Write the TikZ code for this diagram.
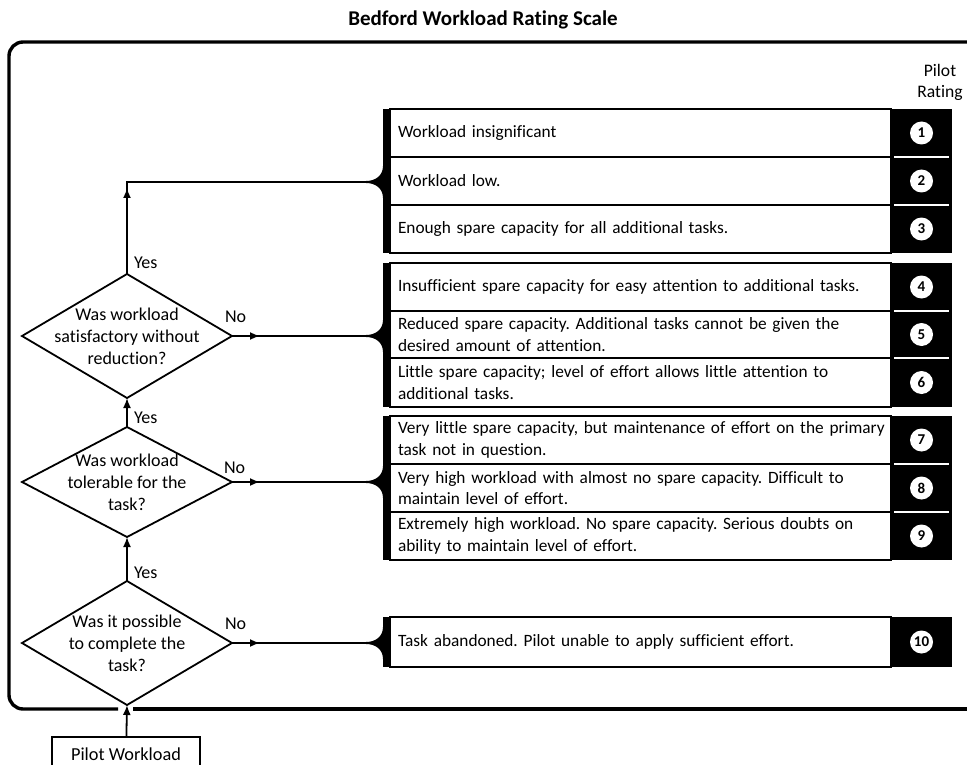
\documentclass[tikz,border=0pt]{standalone}
\usepackage{fontspec}
\setmainfont{Carlito}[Ligatures=NoCommon]
\frenchspacing
\usetikzlibrary{arrows.meta,shapes.geometric,decorations.markings}

\tikzset{
  every node/.style={inner sep=0pt, outer sep=0pt},
  body/.style={font=\fontsize{17.3}{21.5}\selectfont},
  line/.style={line width=1.8pt},
  tip/.style={-{Latex[length=10pt,width=8pt]}},
  midtip/.style={postaction={decorate,decoration={markings,
      mark=at position #1 with {\arrow{Latex[length=10pt,width=8pt]}}}}},
  frame/.style={line width=3.4pt},
  dia/.style={draw, line width=1.8pt, diamond, minimum width=210pt,
      minimum height=124pt, inner sep=0pt},
  dtext/.style={font=\fontsize{18}{22}\selectfont, align=center},
  lab/.style={font=\fontsize{18}{20}\selectfont, anchor=west},
  row/.style={body, draw, line width=1.6pt, anchor=north west,
      minimum width=501pt, inner xsep=8pt, text width=485pt, align=left},
  num/.style={circle, fill=white, minimum size=23pt,
      font=\bfseries\fontsize{15}{16}\selectfont},
  sep/.style={white, line width=1.6pt},
  bar/.style={line width=7pt},
  brace/.pic={
    \fill (-17,-1) .. controls (-8,-1) and (0,-6) .. (0,-16)
      -- (0,16) .. controls (0,6) and (-8,1) .. (-17,1) -- cycle;
  }
}

\begin{document}
\begin{tikzpicture}[x=1pt, y=-1pt]
\useasboundingbox (0,0) rectangle (967,765);

% heading and column heading
\node[font=\bfseries\fontsize{21}{24}\selectfont] (title) at (483,20) {Bedford Workload Rating Scale};
\node[align=center, font=\fontsize{17.6}{21}\selectfont] (colhead) at (940,82) {Pilot\\Rating};

% outer frame, open on the right, with a gap for the entry arrow
\draw[frame, rounded corners=14pt] (967,42) -- (9,42) -- (9,709) -- (118,709);
\draw[frame] (133,709) -- (967,709);

% decision diamonds
\node[dia] (d1) at (127,336) {};
\node[dtext] at (d1) {Was workload\\satisfactory without\\reduction?};
\node[dia, minimum height=110pt] (d2) at (127,482) {};
\node[dtext] at (d2) {Was workload\\tolerable for the\\task?};
\node[dia] (d3) at (127,643) {};
\node[dtext] at (d3) {Was it possible\\to complete the\\task?};

% start box
\node[draw, line width=1.8pt, minimum width=148pt, minimum height=40pt,
      anchor=north] (start) at (126,737) {};
\node[font=\fontsize{18.3}{20}\selectfont] at (126,754.5) {Pilot Workload};

% rating groups: black number column, rows, thick left bar
% group 1 (ratings 1-3)
\fill (891,109) rectangle (952,253);
\node[row, minimum height=48pt] (r1) at (390,109) {Workload insignificant};
\node[row, minimum height=48pt] (r2) at (390,157) {Workload low.};
\node[row, minimum height=48pt] (r3) at (390,205) {Enough spare capacity for all additional tasks.};
\draw[sep] (894,157) -- (949,157);
\draw[sep] (894,205) -- (949,205);
\draw[bar] (386.5,109) -- (386.5,253);
\pic at (383,182) {brace};
\coordinate (b1) at (366,182);

% group 2 (ratings 4-6)
\fill (891,263) rectangle (952,407);
\node[row, minimum height=48pt] (r4) at (390,263) {\mbox{Insufficient spare capacity for easy attention to additional tasks.}};
\node[row, minimum height=47pt] (r5) at (390,311) {\mbox{Reduced spare capacity. Additional tasks cannot be given the}\\desired amount of attention.};
\node[row, minimum height=49pt] (r6) at (390,358) {\mbox{Little spare capacity; level of effort allows little attention to}\\additional tasks.};
\draw[sep] (894,311) -- (949,311);
\draw[sep] (894,358) -- (949,358);
\draw[bar] (386.5,263) -- (386.5,407);
\pic at (383,336) {brace};
\coordinate (b2) at (366,336);

% group 3 (ratings 7-9)
\fill (891,416) rectangle (952,560);
\node[row, minimum height=48pt] (r7) at (390,416) {\mbox{Very little spare capacity, but maintenance of effort on the primary}\\task not in question.};
\node[row, minimum height=48pt] (r8) at (390,464) {\mbox{Very high workload with almost no spare capacity. Difficult to}\\maintain level of effort.};
\node[row, minimum height=48pt] (r9) at (390,512) {\mbox{Extremely high workload. No spare capacity. Serious doubts on}\\ability to maintain level of effort.};
\draw[sep] (894,464) -- (949,464);
\draw[sep] (894,512) -- (949,512);
\draw[bar] (386.5,416) -- (386.5,560);
\pic at (383,482) {brace};
\coordinate (b3) at (366,482);

% group 4 (rating 10)
\fill (891,617) rectangle (952,667);
\node[row, minimum height=50pt] (r10) at (390,617) {Task abandoned. Pilot unable to apply sufficient effort.};
\draw[bar] (386.5,617) -- (386.5,667);
\pic at (383,643) {brace};
\coordinate (b4) at (366,643);

% rating numbers
\node[num] (n1) at (921.5,133) {1};
\node[num] (n2) at (921.5,181) {2};
\node[num] (n3) at (921.5,229) {3};
\node[num] (n4) at (921.5,287) {4};
\node[num] (n5) at (921.5,334.5) {5};
\node[num] (n6) at (921.5,382.5) {6};
\node[num] (n7) at (921.5,440) {7};
\node[num] (n8) at (921.5,488) {8};
\node[num] (n9) at (921.5,536) {9};
\node[num] (n10) at (921.5,642) {10};

% flow: Yes branches upward
\draw[line, tip] (start) -- (d3.south);
\draw[line, tip] (d3.north) -- (d2.south);
\draw[line, tip] (d2.north) -- (d1.south);
\draw[line, midtip=86pt] (d1.north) |- (b1);

% flow: No branches to the rating groups
\draw[line, midtip=28pt] (d1.east) -- (b2);
\draw[line, midtip=28pt] (d2.east) -- (b3);
\draw[line, midtip=28pt] (d3.east) -- (b4);

% branch labels
\node[lab] (y1) at (134,263) {Yes};
\node[lab] (y2) at (134,418) {Yes};
\node[lab] (y3) at (134,573) {Yes};
\node[lab] (no1) at (225,317) {No};
\node[lab] (no2) at (224,468) {No};
\node[lab] (no3) at (225,624) {No};
\end{tikzpicture}
\end{document}
